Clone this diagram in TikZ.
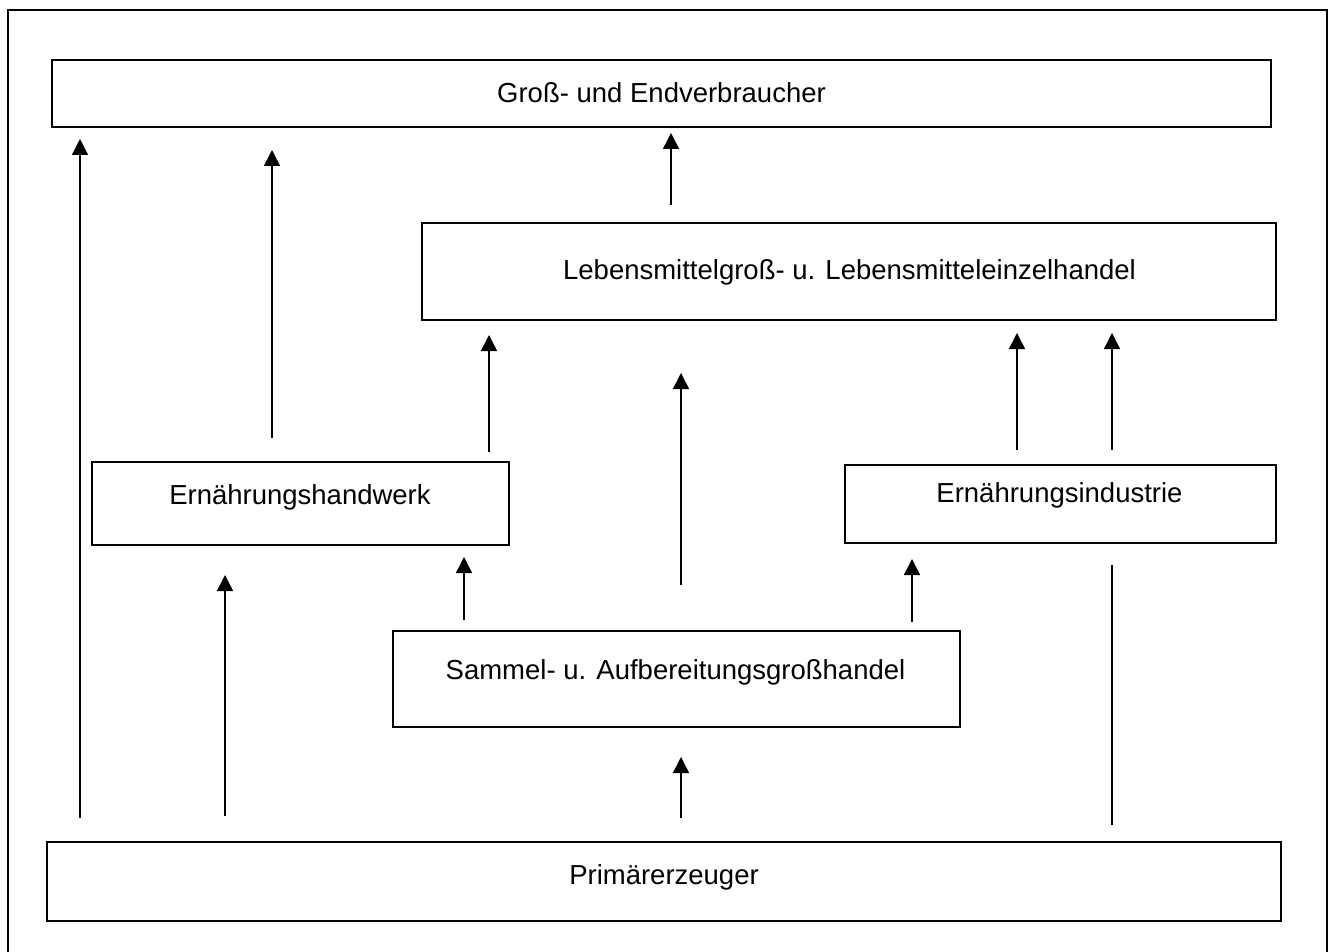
\documentclass[tikz,border=0pt]{standalone}
\usepackage{fontspec}
\setmainfont{Liberation Sans}
\usetikzlibrary{arrows.meta}
\begin{document}
\begin{tikzpicture}[x=1pt,y=-1pt,
  box/.style={draw,line width=2.4pt,rectangle,inner sep=0pt},
  lbl/.style={font=\fontsize{27.5}{32}\selectfont,inner sep=0pt,anchor=center},
  arr/.style={line width=1.5pt,-{Triangle[width=16pt,length=16pt]}},
  ln/.style={line width=1.5pt}]
\useasboundingbox (0,0) rectangle (1333,952);
\draw[line width=1.4pt] (8,960) -- (8,10) -- (1327,10) -- (1327,960);
% boxes
\node[box,minimum width=1219pt,minimum height=67pt] (gross) at (661.5,93.5) {};
\node[box,minimum width=854pt,minimum height=97pt] (lebm) at (849,271.5) {};
\node[box,minimum width=417pt,minimum height=83pt] (hand) at (300.5,503.5) {};
\node[box,minimum width=431pt,minimum height=78pt] (ind) at (1060.5,504) {};
\node[box,minimum width=567pt,minimum height=96pt] (samm) at (676.5,679) {};
\node[box,minimum width=1234pt,minimum height=79pt] (prim) at (664,881.5) {};
% labels
\node[lbl] (tgross) at (661.5,93) {Groß- und Endverbraucher};
\node[lbl] (tlebm) at (849.5,272) {Lebensmittelgroß- u. Lebensmitteleinzelhandel};
\node[lbl] (thand) at (300,497) {Ernährungshandwerk};
\node[lbl] (tind) at (1059.5,495) {Ernährungsindustrie};
\node[lbl] (tsamm) at (675.5,672) {Sammel- u. Aufbereitungsgroßhandel};
\node[lbl] (tprim) at (664,877) {Primärerzeuger};
% connector ends
\coordinate (a1s) at (80,818);   \coordinate (a1e) at (80,139);
\coordinate (a2s) at (272,438);  \coordinate (a2e) at (272,150);
\coordinate (a3s) at (671,205);  \coordinate (a3e) at (671,133);
\coordinate (a4s) at (489,452);  \coordinate (a4e) at (489,335);
\coordinate (a5s) at (681,585);  \coordinate (a5e) at (681,373);
\coordinate (a6s) at (1017,450); \coordinate (a6e) at (1017,333);
\coordinate (a7s) at (1112,450); \coordinate (a7e) at (1112,333);
\coordinate (a8s) at (225,816);  \coordinate (a8e) at (225,575);
\coordinate (a9s) at (464,620);  \coordinate (a9e) at (464,557);
\coordinate (a10s) at (912,622); \coordinate (a10e) at (912,559);
\coordinate (a11s) at (681,818); \coordinate (a11e) at (681,757);
\coordinate (a12s) at (1112,825); \coordinate (a12e) at (1112,565);
\draw[arr] (a1s) -- (a1e);
\draw[arr] (a2s) -- (a2e);
\draw[arr] (a3s) -- (a3e);
\draw[arr] (a4s) -- (a4e);
\draw[arr] (a5s) -- (a5e);
\draw[arr] (a6s) -- (a6e);
\draw[arr] (a7s) -- (a7e);
\draw[arr] (a8s) -- (a8e);
\draw[arr] (a9s) -- (a9e);
\draw[arr] (a10s) -- (a10e);
\draw[arr] (a11s) -- (a11e);
\draw[ln] (a12s) -- (a12e);
\end{tikzpicture}
\end{document}
